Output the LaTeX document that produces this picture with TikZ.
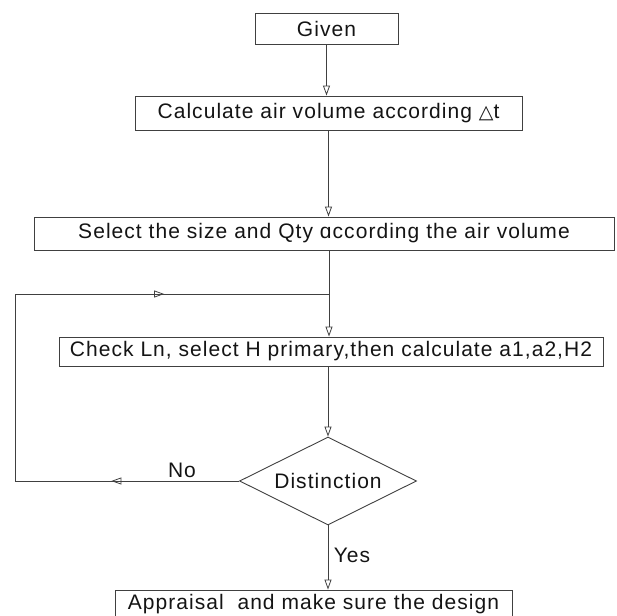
\documentclass[tikz,border=0pt]{standalone}
\usepackage{fontspec}
\setmainfont[LetterSpace=5]{Liberation Sans}
\newfontfamily\dejavu{DejaVu Sans}
\usetikzlibrary{arrows.meta,shapes.geometric,decorations.markings}
\begin{document}
\begin{tikzpicture}[x=1pt,y=-1pt,
  ln/.style={draw=black!75,line width=0.9pt},
  tip/.style={-{Triangle[open,length=10pt,width=7pt,line width=0.8pt]}},
  box/.style={ln,rectangle,inner sep=0pt,text=black!92,font=\fontsize{21}{24}\selectfont},
  lbl/.style={text=black!92,font=\fontsize{21}{24}\selectfont,inner sep=0pt},
  midtip/.style={postaction={decorate},decoration={markings,mark=at position #1 with {\arrow{Triangle[open,length=10pt,width=7pt,line width=0.8pt]}}}}
]
\clip (0,0) rectangle (617,615);
\node[box,minimum width=143pt,minimum height=31pt] (given) at (326.5,28.5) {Given};
\node[box,minimum width=387pt,minimum height=34pt] (calc) at (328.5,113) {Calculate air volume according {\dejavu\fontsize{19}{24}\selectfont △}t};
\node[box,minimum width=580pt,minimum height=33pt] (select) at (324,233.5) {Select the size and Qty ɑccording the air volume};
\node[box,minimum width=544pt,minimum height=29pt] (check) at (331,351.5) {Check Ln, select H primary,then calculate a1,a2,H2};
\node[box,shape=diamond,aspect=2,minimum width=177pt,minimum height=88pt] (dist) at (328,481) {Distinction};
\node[box,minimum width=397pt,minimum height=28pt] (appr) at (313.5,604) {Appraisal\ \ and make sure the design};
\coordinate (j) at (329,294);
\coordinate (lt) at (15,294);
\coordinate (lb) at (15,481);
\node[lbl] (no) at (182,470) {No};
\node[lbl] (yes) at (352,555) {Yes};
\draw[ln,tip] (given.south) -- (given.south |- calc.north);
\draw[ln,tip] (calc.south) -- (calc.south |- select.north);
\draw[ln] (select.south -| j) -- (j);
\draw[ln,tip] (j) -- (j |- check.north);
\draw[ln,tip] (check.south -| dist.north) -- (dist.north);
\draw[ln,tip] (dist.south) -- (dist.south |- appr.north);
\draw[ln,midtip=0.57] (dist.west) -- (lb);
\draw[ln] (lb) -- (lt);
\draw[ln,midtip=0.475] (lt) -- (j);
\end{tikzpicture}
\end{document}
